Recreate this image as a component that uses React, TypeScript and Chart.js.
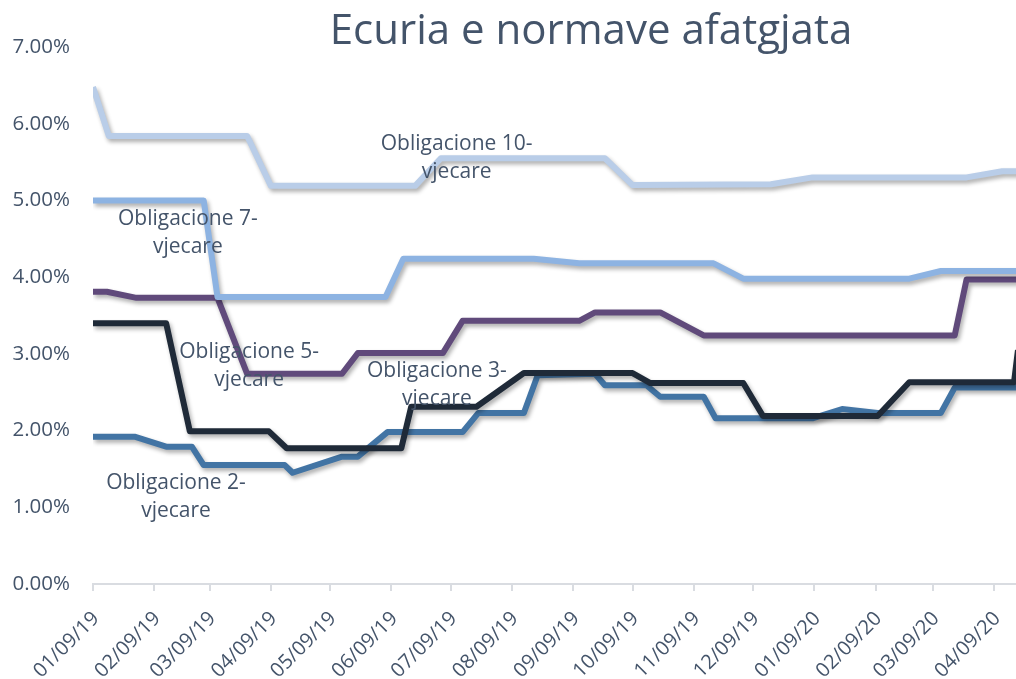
import React, { useEffect, useRef } from 'react';
import { Chart, registerables } from 'chart.js';

Chart.register(...registerables);

const BASE_DATE = '2019-01-09';
const TITLE = 'Ecuria e normave afatgjata';

const tickDates = [
  '2019-01-09', '2019-02-09', '2019-03-09', '2019-04-09', '2019-05-09', '2019-06-09',
  '2019-07-09', '2019-08-09', '2019-09-09', '2019-10-09', '2019-11-09', '2019-12-09',
  '2020-01-09', '2020-02-09', '2020-03-09', '2020-04-09',
];
const tickLabels = [
  '01/09/19', '02/09/19', '03/09/19', '04/09/19', '05/09/19', '06/09/19',
  '07/09/19', '08/09/19', '09/09/19', '10/09/19', '11/09/19', '12/09/19',
  '01/09/20', '02/09/20', '03/09/20', '04/09/20',
];

const seriesNames = [
  'Obligacione 10-vjecare',
  'Obligacione 7-vjecare',
  'Obligacione 5-vjecare',
  'Obligacione 3-vjecare',
  'Obligacione 2-vjecare',
];

const dates10Y = ['2019-01-09', '2019-01-17', '2019-03-28', '2019-04-09', '2019-06-21', '2019-07-04', '2019-09-25', '2019-10-09', '2019-12-18', '2020-01-08', '2020-03-26', '2020-04-13', '2020-04-23'];
const yields10Y = [6.48, 5.84, 5.84, 5.19, 5.19, 5.55, 5.55, 5.20, 5.21, 5.30, 5.30, 5.38, 5.38];

const dates7Y = ['2019-01-09', '2019-03-06', '2019-03-13', '2019-06-06', '2019-06-15', '2019-08-20', '2019-09-12', '2019-11-19', '2019-12-04', '2020-02-26', '2020-03-13', '2020-04-23'];
const yields7Y = [5.00, 5.00, 3.74, 3.74, 4.24, 4.24, 4.18, 4.18, 3.98, 3.98, 4.08, 4.08];

const dates5Y = ['2019-01-09', '2019-01-16', '2019-01-31', '2019-03-13', '2019-03-28', '2019-05-15', '2019-05-23', '2019-07-05', '2019-07-15', '2019-09-12', '2019-09-20', '2019-10-23', '2019-11-14', '2020-03-20', '2020-03-26', '2020-04-23'];
const yields5Y = [3.81, 3.81, 3.73, 3.73, 2.74, 2.74, 3.01, 3.01, 3.43, 3.43, 3.54, 3.54, 3.24, 3.24, 3.97, 3.97];

const dates3Y = ['2019-01-09', '2019-02-15', '2019-02-27', '2019-04-08', '2019-04-17', '2019-06-14', '2019-06-19', '2019-07-22', '2019-08-15', '2019-10-09', '2019-10-18', '2019-12-04', '2019-12-14', '2020-02-10', '2020-02-26', '2020-04-19', '2020-04-21'];
const yields3Y = [3.40, 3.40, 1.99, 1.99, 1.77, 1.77, 2.31, 2.31, 2.75, 2.75, 2.62, 2.62, 2.19, 2.19, 2.63, 2.63, 3.05];

const dates2Y = ['2019-01-09', '2019-01-30', '2019-02-15', '2019-02-28', '2019-03-06', '2019-04-16', '2019-04-20', '2019-05-15', '2019-05-23', '2019-06-07', '2019-07-15', '2019-07-23', '2019-08-15', '2019-08-22', '2019-09-20', '2019-09-25', '2019-10-16', '2019-10-23', '2019-11-14', '2019-11-20', '2020-01-08', '2020-01-23', '2020-02-10', '2020-03-13', '2020-03-20', '2020-04-23'];
const yields2Y = [1.92, 1.92, 1.79, 1.79, 1.55, 1.55, 1.45, 1.66, 1.66, 1.98, 1.98, 2.23, 2.23, 2.72, 2.74, 2.59, 2.59, 2.44, 2.44, 2.16, 2.16, 2.28, 2.23, 2.23, 2.56, 2.56];

// series label anchors (centre of the two-line label, in data coordinates)
const seriesLabels = [
  { lines: ['Obligacione 10-', 'vjecare'], date: '2019-07-12', value: 5.55 },
  { lines: ['Obligacione 7-', 'vjecare'], date: '2019-02-26', value: 4.58 },
  { lines: ['Obligacione 5-', 'vjecare'], date: '2019-03-29', value: 2.84 },
  { lines: ['Obligacione 3-', 'vjecare'], date: '2019-07-02', value: 2.59 },
  { lines: ['Obligacione 2-', 'vjecare'], date: '2019-02-20', value: 1.13 },
];

const TEXT = '#44546a';
const AXIS = '#d9dce1';
const FONT = '"Open Sans", "DejaVu Sans", sans-serif';
const colors = ['#b9cde8', '#8db3e2', '#604a7b', '#1f2a38', '#4274a4'];

const dayIndex = (iso: string) => {
  const [y, m, d] = iso.split('-').map(Number);
  const [by, bm, bd] = BASE_DATE.split('-').map(Number);
  return (Date.UTC(y, m - 1, d) - Date.UTC(by, bm - 1, bd)) / 86400000;
};

const toPoints = (dates: string[], values: number[]) =>
  dates.map((d, i) => ({ x: dayIndex(d), y: values[i] }));

const shadowPlugin = {
  id: 'lineShadow',
  beforeDatasetDraw(chart: any) {
    const ctx = chart.ctx;
    ctx.save();
    ctx.shadowColor = 'rgba(0,0,0,0.32)';
    ctx.shadowBlur = 4;
    ctx.shadowOffsetX = 2;
    ctx.shadowOffsetY = 3;
  },
  afterDatasetDraw(chart: any) {
    chart.ctx.restore();
  },
};

const labelPlugin = {
  id: 'seriesLabels',
  afterDatasetsDraw(chart: any) {
    const { ctx, scales } = chart;
    ctx.save();
    ctx.fillStyle = TEXT;
    ctx.font = `21px ${FONT}`;
    ctx.textAlign = 'center';
    ctx.textBaseline = 'middle';
    const lh = 28;
    seriesLabels.forEach((l) => {
      const cx = scales.x.getPixelForValue(dayIndex(l.date));
      const cy = scales.y.getPixelForValue(l.value);
      const top = cy - ((l.lines.length - 1) * lh) / 2;
      l.lines.forEach((t, i) => ctx.fillText(t, cx, top + i * lh));
    });
    ctx.restore();
  },
};

export default function App() {
  const ref = useRef<HTMLCanvasElement>(null);

  useEffect(() => {
    const series = [
      toPoints(dates10Y, yields10Y),
      toPoints(dates7Y, yields7Y),
      toPoints(dates5Y, yields5Y),
      toPoints(dates3Y, yields3Y),
      toPoints(dates2Y, yields2Y),
    ];
    const chart = new Chart(ref.current as HTMLCanvasElement, {
      type: 'line',
      data: {
        datasets: series.map((data, i) => ({
          label: seriesNames[i],
          data,
          borderColor: colors[i],
          backgroundColor: colors[i],
          borderWidth: 6,
          pointRadius: 0,
          borderJoinStyle: 'round' as const,
          tension: 0,
          fill: false,
        })),
      },
      options: {
        animation: false,
        responsive: true,
        maintainAspectRatio: false,
        layout: { padding: 0 },
        plugins: {
          legend: { display: false },
          tooltip: { enabled: false },
          title: {
            display: true,
            text: TITLE,
            color: TEXT,
            font: { family: FONT, size: 42, weight: 'normal', lineHeight: 0.7 },
            padding: { top: 17.3, bottom: 0.3 },
          },
        },
        scales: {
          x: {
            type: 'linear',
            min: 0,
            max: 551,
            afterBuildTicks: (scale: any) => {
              scale.ticks = tickDates.map((d) => ({ value: dayIndex(d) }));
            },
            afterFit: (scale: any) => {
              scale.height = 95;
            },
            ticks: {
              autoSkip: false,
              minRotation: 45,
              maxRotation: 45,
              padding: 16,
              labelOffset: 3,
              color: TEXT,
              font: { family: FONT, size: 20 },
              callback: (_v: any, i: number) => tickLabels[i],
            },
            grid: {
              display: true,
              drawOnChartArea: false,
              drawTicks: true,
              tickLength: 7,
              color: AXIS,
              lineWidth: 2,
            },
            border: { display: true, color: AXIS, width: 2 },
          },
          y: {
            min: 0,
            max: 7,
            afterFit: (scale: any) => {
              scale.width = 93;
            },
            ticks: {
              stepSize: 1,
              padding: 23,
              color: TEXT,
              font: { family: FONT, size: 20.5 },
              callback: (v: any) => Number(v).toFixed(2) + '%',
            },
            grid: { display: false, drawTicks: false },
            border: { display: false },
          },
        },
      },
      plugins: [shadowPlugin, labelPlugin],
    });
    return () => chart.destroy();
  }, []);

  return (
    <div
      style={{
        position: 'fixed',
        left: 0,
        top: 0,
        width: 1016,
        height: 679,
        overflow: 'hidden',
        background: '#ffffff',
      }}
    >
      <div style={{ position: 'relative', width: 1182, height: 679 }}>
        <canvas ref={ref} />
      </div>
    </div>
  );
}
